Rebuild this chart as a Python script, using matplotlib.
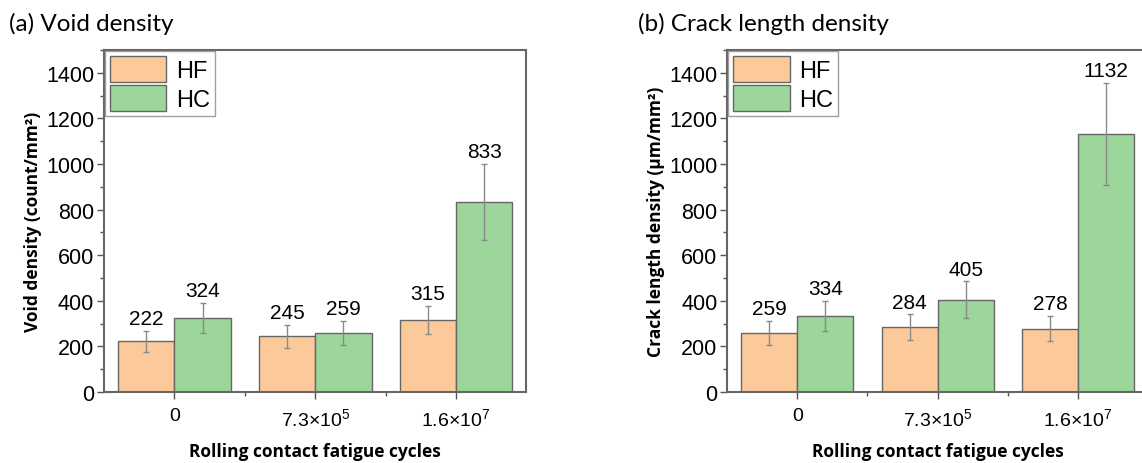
import matplotlib

matplotlib.use("Agg")

import matplotlib.pyplot as plt
from matplotlib.ticker import MultipleLocator, FixedLocator
import numpy as np

# data
cycles = ["0", "7.3×10$^{5}$", "1.6×10$^{7}$"]
void_hf = [222, 245, 315]
void_hc = [324, 259, 833]
void_hf_err = [45, 50, 62]
void_hc_err = [66, 53, 167]
crack_hf = [259, 284, 278]
crack_hc = [334, 405, 1132]
crack_hf_err = [53, 57, 56]
crack_hc_err = [66, 80, 225]

hf_color = "#FCC99A"
hc_color = "#9CD69A"
edge_color = "#666666"
err_color = "#8A8A8A"

plt.rcParams["font.family"] = ["Liberation Sans", "DejaVu Sans"]
plt.rcParams["mathtext.default"] = "regular"

title_font = ["Lato", "DejaVu Sans"]
label_font = ["Open Sans", "DejaVu Sans"]

fig = plt.figure(figsize=(11.42, 4.64), dpi=100)


def draw_panel(ax, hf, hc, hf_err, hc_err, ylabel):
    x = np.arange(len(cycles))
    w = 0.4
    err_kw = dict(ecolor=err_color, elinewidth=1.0, capsize=2.5, capthick=1.0)
    ax.bar(x - w / 2, hf, w, yerr=hf_err, color=hf_color, edgecolor=edge_color,
           linewidth=1.0, label="HF", error_kw=err_kw)
    ax.bar(x + w / 2, hc, w, yerr=hc_err, color=hc_color, edgecolor=edge_color,
           linewidth=1.0, label="HC", error_kw=err_kw)

    # value labels just above the error bars
    for xi, v, e in zip(x - w / 2, hf, hf_err):
        ax.text(xi, v + e + 12, str(v), ha="center", va="bottom", fontsize=15)
    for xi, v, e in zip(x + w / 2, hc, hc_err):
        ax.text(xi, v + e + 12, str(v), ha="center", va="bottom", fontsize=15)

    ax.set_xlim(-0.5, 2.5)
    ax.set_ylim(0, 1500)
    ax.set_xticks(x)
    ax.set_xticklabels(cycles, fontsize=14)
    ax.xaxis.set_minor_locator(FixedLocator([0.5, 1.5]))
    ax.yaxis.set_major_locator(MultipleLocator(200))
    ax.yaxis.set_minor_locator(MultipleLocator(100))
    ax.tick_params(axis="y", which="major", labelsize=15.5, length=5, width=1.0,
                   color="#555555", pad=2)
    ax.tick_params(axis="y", which="minor", length=3, width=1.0, color="#555555")
    ax.tick_params(axis="x", which="major", length=5, width=1.0, color="#555555", pad=6)
    ax.tick_params(axis="x", which="minor", length=3, width=1.0, color="#555555")
    for s in ax.spines.values():
        s.set_color("#666666")
        s.set_linewidth(1.5)

    ax.set_ylabel(ylabel, fontsize=12.5, fontweight="bold", family=label_font, labelpad=3)
    ax.set_xlabel("Rolling contact fatigue cycles", fontsize=12.5, fontweight="bold",
                  family=label_font, labelpad=9)

    leg = ax.legend(loc="upper left", fontsize=17, frameon=True, fancybox=False,
                    borderaxespad=0.05, handlelength=2.4, handleheight=1.3,
                    handletextpad=0.4, labelspacing=0.15, borderpad=0.2)
    leg.get_frame().set_edgecolor("#888888")
    leg.get_frame().set_linewidth(1.0)


ax1 = fig.add_axes([0.091, 0.153, 0.370, 0.737])
draw_panel(ax1, void_hf, void_hc, void_hf_err, void_hc_err,
           "Void density (count/mm²)")

ax2 = fig.add_axes([0.6366, 0.153, 0.369, 0.737])
draw_panel(ax2, crack_hf, crack_hc, crack_hf_err, crack_hc_err,
           "Crack length density (μm/mm²)")

fig.text(0.008, 0.948, "(a) Void density", fontsize=17.5, va="center",
         family=title_font)
fig.text(0.559, 0.948, "(b) Crack length density", fontsize=17.5, va="center",
         family=title_font)

plt.savefig("out.png", dpi=100)
plt.close()
